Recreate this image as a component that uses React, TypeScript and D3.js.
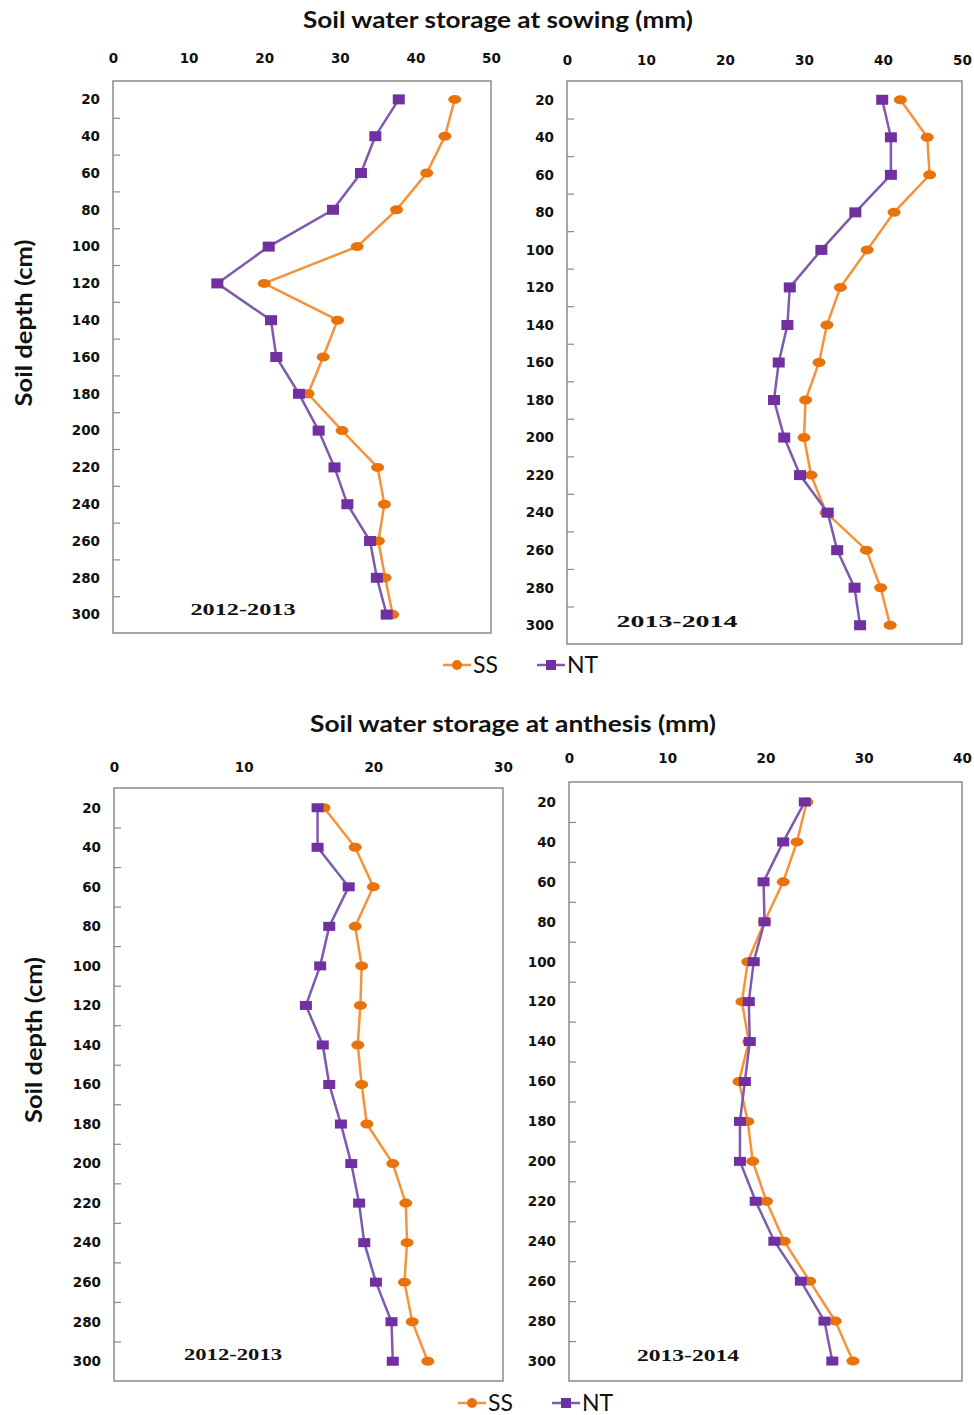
import React, { useEffect, useRef } from "react";
import * as d3 from "d3";

// soil depth (cm), shared by all four panels
const depths = [20, 40, 60, 80, 100, 120, 140, 160, 180, 200, 220, 240, 260, 280, 300];

// soil water storage at sowing (mm)
const sowSS1213 = [45.2, 43.9, 41.5, 37.5, 32.3, 20.0, 29.7, 27.8, 25.8, 30.3, 35.0, 35.9, 35.1, 36.0, 37.0];
const sowNT1213 = [37.8, 34.7, 32.8, 29.1, 20.6, 13.8, 20.9, 21.6, 24.6, 27.2, 29.3, 31.0, 34.0, 34.9, 36.2];
const sowSS1314 = [42.2, 45.6, 45.9, 41.4, 38.0, 34.6, 32.9, 31.9, 30.2, 30.0, 30.9, 32.8, 37.9, 39.7, 40.9];
const sowNT1314 = [39.9, 41.0, 41.0, 36.5, 32.2, 28.2, 27.9, 26.8, 26.2, 27.5, 29.5, 33.0, 34.2, 36.4, 37.1];

// soil water storage at anthesis (mm)
const antSS1213 = [16.2, 18.6, 20.0, 18.6, 19.1, 19.0, 18.8, 19.1, 19.5, 21.5, 22.5, 22.6, 22.4, 23.0, 24.2];
const antNT1213 = [15.7, 15.7, 18.1, 16.6, 15.9, 14.8, 16.1, 16.6, 17.5, 18.3, 18.9, 19.3, 20.2, 21.4, 21.5];
const antSS1314 = [24.2, 23.2, 21.8, 19.9, 18.2, 17.6, 18.3, 17.3, 18.2, 18.7, 20.1, 21.9, 24.5, 27.1, 28.9];
const antNT1314 = [24.0, 21.8, 19.8, 19.9, 18.8, 18.3, 18.4, 17.9, 17.4, 17.4, 19.0, 20.9, 23.6, 26.0, 26.8];

const seriesNames = ["SS", "NT"];
const depthLabels = [20, 40, 60, 80, 100, 120, 140, 160, 180, 200, 220, 240, 260, 280, 300];
const depthMinor = [30, 50, 70, 90, 110, 130, 150, 170, 190, 210, 230, 250, 270, 290];

const ORANGE_LINE = "#F7923A";
const ORANGE_DOT = "#E8720C";
const PURPLE_LINE = "#7E5AAE";
const PURPLE_DOT = "#7030A0";

const panels = [
  { box: [113, 81, 491, 633], xMax: 50, labelY: 58, ss: sowSS1213, nt: sowNT1213, season: "2012-2013", sx: 243, sy: 609, sw: 105, big: true },
  { box: [567, 81, 962, 644], xMax: 50, labelY: 60, ss: sowSS1314, nt: sowNT1314, season: "2013-2014", sx: 677, sy: 621, sw: 121, big: true },
  { box: [114, 788, 503, 1381], xMax: 30, labelY: 767, ss: antSS1213, nt: antNT1213, season: "2012-2013", sx: 233, sy: 1354, sw: 98, big: false },
  { box: [569, 782, 962, 1381], xMax: 40, labelY: 758, ss: antSS1314, nt: antNT1314, season: "2013-2014", sx: 688, sy: 1355, sw: 102, big: false },
];

const titles = [
  { text: "Soil water storage at sowing (mm)", x: 498, y: 28, w: 390 },
  { text: "Soil water storage at anthesis (mm)", x: 513, y: 732, w: 406 },
];
const yTitles = [
  { x: 24, y: 323, w: 167 },
  { x: 34, y: 1040, w: 166 },
];
const legends = [
  { x: 443, y: 665 },
  { x: 458, y: 1403 },
];

export default function App() {
  const ref = useRef<SVGSVGElement>(null);

  useEffect(() => {
    const svg = d3.select(ref.current);
    svg.selectAll("*").remove();

    titles.forEach((t) => {
      svg.append("text")
        .attr("x", t.x).attr("y", t.y)
        .attr("text-anchor", "middle")
        .attr("font-family", "Lato, 'Open Sans', sans-serif")
        .attr("font-weight", "bold")
        .attr("font-size", 22)
        .attr("textLength", t.w)
        .attr("lengthAdjust", "spacingAndGlyphs")
        .attr("fill", "#111")
        .text(t.text);
    });

    yTitles.forEach((t) => {
      svg.append("text")
        .attr("transform", `translate(${t.x},${t.y}) rotate(-90)`)
        .attr("text-anchor", "middle")
        .attr("dy", "0.35em")
        .attr("font-family", "Lato, 'Open Sans', sans-serif")
        .attr("font-weight", "bold")
        .attr("font-size", 22)
        .attr("textLength", t.w)
        .attr("lengthAdjust", "spacingAndGlyphs")
        .attr("fill", "#111")
        .text("Soil depth (cm)");
    });

    panels.forEach((p) => {
      const [l, t, r, b] = p.box;
      const x = d3.scaleLinear().domain([0, p.xMax]).range([l, r]);
      const y = d3.scaleLinear().domain([10, 310]).range([t, b]);
      const g = svg.append("g");

      g.append("rect")
        .attr("x", l).attr("y", t)
        .attr("width", r - l).attr("height", b - t)
        .attr("fill", "none")
        .attr("stroke", "#8a8a8a")
        .attr("stroke-width", 1.5);

      const xAxis = g.append("g")
        .attr("transform", `translate(0,${t})`)
        .call(d3.axisTop(x).tickValues(d3.range(0, p.xMax + 1, 10)).tickSize(0).tickPadding(t - p.labelY - 5));
      xAxis.select(".domain").remove();

      const yAxis = g.append("g")
        .attr("transform", `translate(${l},0)`)
        .call(d3.axisLeft(y).tickValues(depthLabels).tickSize(0).tickPadding(13));
      yAxis.select(".domain").remove();

      [xAxis, yAxis].forEach((a) =>
        a.selectAll("text")
          .attr("font-family", "'DejaVu Sans', Verdana, sans-serif")
          .attr("font-weight", "bold")
          .attr("font-size", 13.5)
          .attr("fill", "#111")
      );

      const minor = g.append("g")
        .attr("transform", `translate(${l},0)`)
        .call(d3.axisRight(y).tickValues(depthMinor).tickSize(7).tickFormat(() => ""));
      minor.select(".domain").remove();
      minor.selectAll("line").attr("stroke", "#8a8a8a").attr("stroke-width", 1.2);

      const line = d3.line<number>()
        .x((v) => x(v))
        .y((_, i) => y(depths[i]));

      const rw = p.big ? 12 : 12;
      const rh = p.big ? 10 : 9;

      // SS
      g.append("path")
        .attr("d", line(p.ss) as string)
        .attr("fill", "none")
        .attr("stroke", ORANGE_LINE)
        .attr("stroke-width", 2.5);
      g.selectAll(".ss").data(p.ss).enter().append("ellipse")
        .attr("cx", (v) => x(v))
        .attr("cy", (_, i) => y(depths[i]))
        .attr("rx", 6.5).attr("ry", 4.5)
        .attr("fill", ORANGE_DOT);

      // NT
      g.append("path")
        .attr("d", line(p.nt) as string)
        .attr("fill", "none")
        .attr("stroke", PURPLE_LINE)
        .attr("stroke-width", 2.5);
      g.selectAll(".nt").data(p.nt).enter().append("rect")
        .attr("x", (v) => x(v) - rw / 2)
        .attr("y", (_, i) => y(depths[i]) - rh / 2)
        .attr("width", rw).attr("height", rh)
        .attr("fill", PURPLE_DOT);

      g.append("text")
        .attr("x", p.sx).attr("y", p.sy)
        .attr("dy", "0.35em")
        .attr("text-anchor", "middle")
        .attr("font-family", "'Liberation Serif', 'Times New Roman', serif")
        .attr("font-weight", "bold")
        .attr("font-size", 16)
        .attr("textLength", p.sw)
        .attr("lengthAdjust", "spacingAndGlyphs")
        .attr("fill", "#111")
        .text(p.season);
    });

    legends.forEach((lg) => {
      const g = svg.append("g").attr("transform", `translate(${lg.x},${lg.y})`);
      seriesNames.forEach((name, i) => {
        const ox = i * 94;
        const color = i === 0 ? ORANGE_LINE : PURPLE_LINE;
        g.append("line")
          .attr("x1", ox).attr("x2", ox + 28)
          .attr("y1", 0).attr("y2", 0)
          .attr("stroke", color).attr("stroke-width", 2.5);
        if (i === 0) {
          g.append("circle").attr("cx", ox + 14).attr("cy", 0).attr("r", 5).attr("fill", ORANGE_DOT);
        } else {
          g.append("rect").attr("x", ox + 9).attr("y", -5).attr("width", 10).attr("height", 10).attr("fill", PURPLE_DOT);
        }
        g.append("text")
          .attr("x", ox + 30).attr("y", 0)
          .attr("dy", "0.36em")
          .attr("font-family", "Lato, 'Open Sans', sans-serif")
          .attr("font-size", 23)
          .attr("fill", "#111")
          .text(name);
      });
    });
  }, []);

  return (
    <svg
      ref={ref}
      width={974}
      height={1415}
      style={{ position: "absolute", left: 0, top: 0, background: "#fff" }}
    />
  );
}
